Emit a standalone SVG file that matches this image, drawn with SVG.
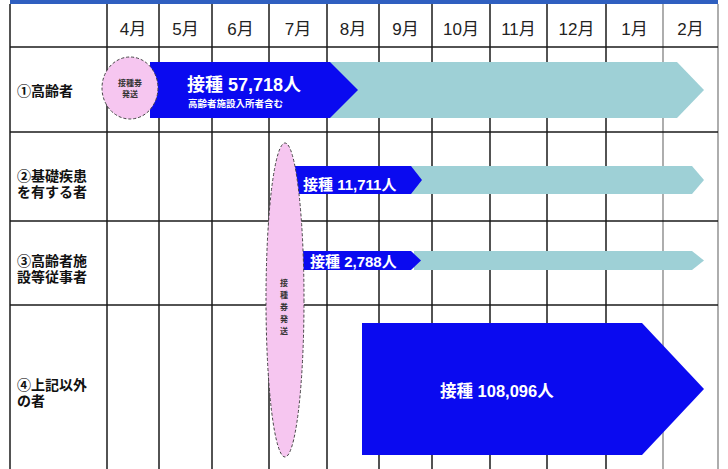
<svg xmlns="http://www.w3.org/2000/svg" width="728" height="469" viewBox="0 0 728 469">
<style>
.grid{stroke:#1a1a1a;stroke-width:1.5;fill:none}
.gl{stroke:#777;stroke-width:1.2}
.mon{font-family:"Liberation Sans","Noto Sans CJK JP",sans-serif;font-size:17px;fill:#222;text-anchor:middle}
.lab{font-family:"Liberation Sans","Noto Sans CJK JP",sans-serif;font-size:14px;font-weight:bold;fill:#111}
.wt{font-family:"Liberation Sans","Noto Sans CJK JP",sans-serif;font-weight:bold;fill:#fff}
.tiny{font-family:"Liberation Sans","Noto Sans CJK JP",sans-serif;font-size:8px;font-weight:bold;fill:#333;text-anchor:middle}
.teal{fill:#9ed0d6}
.blue{fill:#0a0af0}
.pink{fill:#f6c6f0;stroke:#444;stroke-width:1;stroke-dasharray:3 2}
</style>
<rect width="728" height="469" fill="#fff"/>
<rect x="10" y="0" width="708" height="4" fill="#2f5fc0"/>
<g id="grid">
<line class="grid" x1="10" y1="4" x2="10" y2="469"/>
<line class="grid" x1="107" y1="4" x2="107" y2="469"/>
<line class="grid" x1="159" y1="4" x2="159" y2="469"/>
<line class="grid" x1="212" y1="4" x2="212" y2="469"/>
<line class="grid" x1="269" y1="4" x2="269" y2="469"/>
<line class="grid" x1="327" y1="4" x2="327" y2="469"/>
<line class="grid" x1="379" y1="4" x2="379" y2="469"/>
<line class="grid" x1="432" y1="4" x2="432" y2="469"/>
<line class="grid" x1="490" y1="4" x2="490" y2="469"/>
<line class="grid" x1="547" y1="4" x2="547" y2="469"/>
<line class="grid" x1="606" y1="4" x2="606" y2="469"/>
<line class="gl" x1="663" y1="4" x2="663" y2="469"/>
<line class="gl" x1="718" y1="4" x2="718" y2="469"/>
<line class="grid" x1="10" y1="47" x2="718" y2="47"/>
<line class="grid" x1="10" y1="132" x2="718" y2="132"/>
<line class="grid" x1="10" y1="221" x2="718" y2="221"/>
<line class="grid" x1="10" y1="305" x2="718" y2="305"/>
</g>
<g id="months">
<text class="mon" x="133" y="35">4月</text>
<text class="mon" x="185.5" y="35">5月</text>
<text class="mon" x="240.5" y="35">6月</text>
<text class="mon" x="298" y="35">7月</text>
<text class="mon" x="353" y="35">8月</text>
<text class="mon" x="405.5" y="35">9月</text>
<text class="mon" x="461" y="35">10月</text>
<text class="mon" x="518.5" y="35">11月</text>
<text class="mon" x="576.5" y="35">12月</text>
<text class="mon" x="634.5" y="35">1月</text>
<text class="mon" x="690.5" y="35">2月</text>
</g>
<g id="labels">
<text class="lab" x="17" y="96">①高齢者</text>
<text class="lab" x="17" y="181">②基礎疾患</text>
<text class="lab" x="17" y="197">を有する者</text>
<text class="lab" x="17" y="266">③高齢者施</text>
<text class="lab" x="17" y="282">設等従事者</text>
<text class="lab" x="17" y="390">④上記以外</text>
<text class="lab" x="17" y="406">の者</text>
</g>
<g id="connectors">
<polygon id="teal1" class="teal" points="330,62 677,62 704,90 677,118 330,118"/>
<polygon id="teal2" class="teal" points="410,166 692,166 704,180 692,194 410,194"/>
<polygon id="teal3" class="teal" points="414,251 692,251 704,260.5 692,270 414,270"/>
</g>
<g id="row1">
<polygon class="blue" points="150,62 330,62 358,90 330,118 150,118"/>
<text class="wt" x="187" y="91" font-size="18">接種 57,718人</text>
<text class="wt" x="188" y="107" font-size="9.5">高齢者施設入所者含む</text>
<g id="circle1">
<ellipse class="pink" cx="130" cy="88" rx="28" ry="31"/>
<text class="tiny" x="130" y="86">接種券</text>
<text class="tiny" x="130" y="97">発送</text>
</g>
</g>
<g id="row2">
<polygon class="blue" points="290,166 411,166 422,180 411,194 290,194"/>
<text class="wt" x="303" y="190" font-size="15">接種 11,711人</text>
</g>
<g id="row3">
<polygon class="blue" points="300,251 411,251 421,260.5 411,270 300,270"/>
<text class="wt" x="310" y="267" font-size="15">接種 2,788人</text>
</g>
<g id="row4">
<polygon class="blue" points="362,323 642,323 704,389 642,455 362,455"/>
<text class="wt" x="440" y="397" font-size="16.5">接種 108,096人</text>
</g>
<g id="ellipse2">
<ellipse class="pink" cx="285" cy="300" rx="19" ry="157"/>
<text class="tiny" x="284" y="286">接</text>
<text class="tiny" x="284" y="298">種</text>
<text class="tiny" x="284" y="310">券</text>
<text class="tiny" x="284" y="322">発</text>
<text class="tiny" x="284" y="334">送</text>
</g>
</svg>
